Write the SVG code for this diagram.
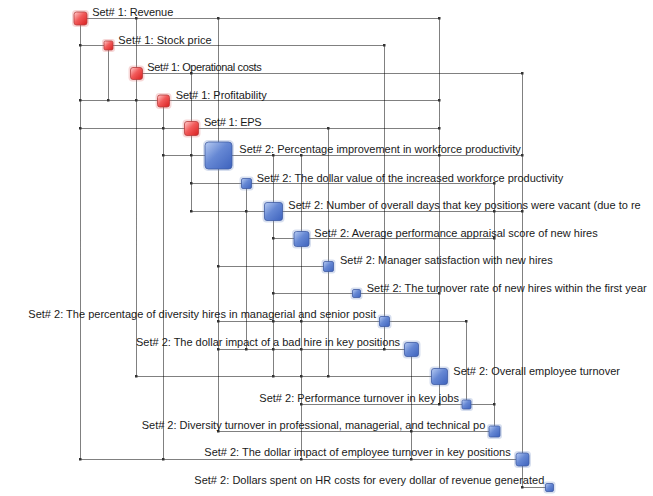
<svg xmlns="http://www.w3.org/2000/svg" width="653" height="496" viewBox="0 0 653 496">
<defs>
<linearGradient id="gr" x1="0" y1="0" x2="1" y2="1">
<stop offset="0" stop-color="#ffd0d0"/><stop offset="0.45" stop-color="#f25a5a"/><stop offset="1" stop-color="#d81e1e"/>
</linearGradient>
<linearGradient id="gb" x1="0" y1="0" x2="1" y2="1">
<stop offset="0" stop-color="#b8ccf2"/><stop offset="0.45" stop-color="#6688d4"/><stop offset="1" stop-color="#3d62bd"/>
</linearGradient>
</defs>
<style>
.c{fill:none;stroke:#000;stroke-width:1;stroke-dasharray:1 1}
.m{fill:#333}
.r{fill:url(#gr);stroke:#b83a3a;stroke-width:0.8}
.b{fill:url(#gb);stroke:#3d5aa3;stroke-width:0.8}
.h{fill:none;stroke-width:2;opacity:0.25}
.hr{stroke:#e06060}
.hb{stroke:#6080c0}
text{font-family:"Liberation Sans",Arial,sans-serif;font-size:11px;fill:#1a1a1a}
</style>
<rect width="653" height="496" fill="#fff"/>
<g id="connectors">
<path class="c" d="M80.5 18.5H439.5M80.5 45.5H384.5M136.5 73.5H522.5M80.5 100.5H439.5M80.5 128.5H439.5M163.5 155.5H522.5M191.5 183.5H494.5M191.5 211.5H522.5M273.5 238.5H494.5M218.5 266.5H328.5M273.5 293.5H439.5M218.5 321.5H466.5M218.5 349.5H411.5M136.5 376.5H439.5M301.5 404.5H494.5M218.5 431.5H494.5M80.5 459.5H522.5M522.5 487.5H549.5"/>
<path class="c" d="M80.5 18.5V459.5M108.5 45.5V100.5M136.5 18.5V376.5M163.5 100.5V459.5M191.5 73.5V211.5M218.5 18.5V431.5M246.5 183.5V349.5M273.5 155.5V376.5M301.5 155.5V459.5M328.5 128.5V376.5M384.5 45.5V349.5M411.5 349.5V459.5M439.5 18.5V404.5M466.5 321.5V404.5M494.5 183.5V431.5M522.5 73.5V487.5"/>
<g class="m">
<rect x="135" y="17" width="2.5" height="2.5"/><rect x="217" y="17" width="2.5" height="2.5"/><rect x="438" y="17" width="2.5" height="2.5"/>
<rect x="79" y="44" width="2.5" height="2.5"/><rect x="383" y="44" width="2.5" height="2.5"/>
<rect x="190" y="72" width="2.5" height="2.5"/><rect x="521" y="72" width="2.5" height="2.5"/>
<rect x="79" y="99" width="2.5" height="2.5"/><rect x="107" y="99" width="2.5" height="2.5"/><rect x="135" y="99" width="2.5" height="2.5"/><rect x="438" y="99" width="2.5" height="2.5"/>
<rect x="79" y="127" width="2.5" height="2.5"/><rect x="162" y="127" width="2.5" height="2.5"/><rect x="327" y="127" width="2.5" height="2.5"/><rect x="438" y="127" width="2.5" height="2.5"/>
<rect x="162" y="154" width="2.5" height="2.5"/><rect x="190" y="154" width="2.5" height="2.5"/><rect x="272" y="154" width="2.5" height="2.5"/><rect x="300" y="154" width="2.5" height="2.5"/><rect x="438" y="154" width="2.5" height="2.5"/><rect x="521" y="154" width="2.5" height="2.5"/>
<rect x="190" y="182" width="2.5" height="2.5"/><rect x="493" y="182" width="2.5" height="2.5"/>
<rect x="190" y="210" width="2.5" height="2.5"/><rect x="245" y="210" width="2.5" height="2.5"/><rect x="493" y="210" width="2.5" height="2.5"/><rect x="521" y="210" width="2.5" height="2.5"/>
<rect x="272" y="237" width="2.5" height="2.5"/><rect x="493" y="237" width="2.5" height="2.5"/>
<rect x="217" y="265" width="2.5" height="2.5"/>
<rect x="272" y="292" width="2.5" height="2.5"/><rect x="438" y="292" width="2.5" height="2.5"/>
<rect x="217" y="320" width="2.5" height="2.5"/><rect x="272" y="320" width="2.5" height="2.5"/><rect x="300" y="320" width="2.5" height="2.5"/><rect x="465" y="320" width="2.5" height="2.5"/>
<rect x="217" y="348" width="2.5" height="2.5"/><rect x="245" y="348" width="2.5" height="2.5"/><rect x="272" y="348" width="2.5" height="2.5"/><rect x="300" y="348" width="2.5" height="2.5"/><rect x="383" y="348" width="2.5" height="2.5"/>
<rect x="135" y="375" width="2.5" height="2.5"/><rect x="272" y="375" width="2.5" height="2.5"/><rect x="300" y="375" width="2.5" height="2.5"/><rect x="327" y="375" width="2.5" height="2.5"/>
<rect x="300" y="403" width="2.5" height="2.5"/><rect x="438" y="403" width="2.5" height="2.5"/><rect x="493" y="403" width="2.5" height="2.5"/>
<rect x="217" y="430" width="2.5" height="2.5"/><rect x="410" y="430" width="2.5" height="2.5"/>
<rect x="79" y="458" width="2.5" height="2.5"/><rect x="162" y="458" width="2.5" height="2.5"/><rect x="300" y="458" width="2.5" height="2.5"/><rect x="410" y="458" width="2.5" height="2.5"/>
<rect x="521" y="486" width="2.5" height="2.5"/>
</g>
</g>
<g id="n1"><rect class="h hr" x="73" y="11" width="15" height="15" rx="3"/><rect class="r" x="74" y="12" width="13" height="13" rx="2.5"/><text x="92.3" y="16" textLength="81">Set# 1: Revenue</text></g>
<g id="n2"><rect class="h hr" x="103" y="40" width="11" height="11" rx="2"/><rect class="r" x="104" y="41" width="9" height="9" rx="1.5"/><text x="118.3" y="44" textLength="93.4">Set# 1: Stock price</text></g>
<g id="n3"><rect class="h hr" x="129.5" y="66.5" width="14" height="14" rx="3"/><rect class="r" x="130.5" y="67.5" width="12" height="12" rx="2.5"/><text x="147.3" y="71" textLength="114.4">Set# 1: Operational costs</text></g>
<g id="n4"><rect class="h hr" x="156.5" y="94" width="14" height="14" rx="3"/><rect class="r" x="157.5" y="95" width="12" height="12" rx="2.5"/><text x="175.7" y="99" textLength="91">Set# 1: Profitability</text></g>
<g id="n5"><rect class="h hr" x="183.5" y="120.5" width="16" height="16" rx="3"/><rect class="r" x="184.5" y="121.5" width="14" height="14" rx="2.5"/><text x="204" y="126" textLength="57.7">Set# 1: EPS</text></g>
<g id="n6"><rect class="h hb" x="204" y="141" width="29" height="29" rx="4"/><rect class="b" x="205" y="142" width="27" height="27" rx="3.5"/><text x="239.3" y="153.3" textLength="281.4">Set# 2: Percentage improvement in workforce productivity</text></g>
<g id="n7"><rect class="h hb" x="240.5" y="177.5" width="12" height="12" rx="2"/><rect class="b" x="241.5" y="178.5" width="10" height="10" rx="1.5"/><text x="256.7" y="181.7" textLength="306.6">Set# 2: The dollar value of the increased workforce productivity</text></g>
<g id="n8"><rect class="h hb" x="263.5" y="201.5" width="20" height="20" rx="3"/><rect class="b" x="264.5" y="202.5" width="18" height="18" rx="2.5"/><text x="288.3" y="209" textLength="352.4">Set# 2: Number of overall days that key positions were vacant (due to re</text></g>
<g id="n9"><rect class="h hb" x="293" y="230.5" width="17" height="17" rx="3"/><rect class="b" x="294" y="231.5" width="15" height="15" rx="2.5"/><text x="314.3" y="236.7" textLength="283.4">Set# 2: Average performance appraisal score of new hires</text></g>
<g id="n10"><rect class="h hb" x="322.5" y="260.5" width="12" height="12" rx="2"/><rect class="b" x="323.5" y="261.5" width="10" height="10" rx="1.5"/><text x="340" y="264" textLength="212.7">Set# 2: Manager satisfaction with new hires</text></g>
<g id="n11"><rect class="h hb" x="351.5" y="288.5" width="10" height="10" rx="2"/><rect class="b" x="352.5" y="289.5" width="8" height="8" rx="1.5"/><text x="366.7" y="291.7" textLength="280">Set# 2: The turnover rate of new hires within the first year</text></g>
<g id="n12"><rect class="h hb" x="378.5" y="315.5" width="12" height="12" rx="2"/><rect class="b" x="379.5" y="316.5" width="10" height="10" rx="1.5"/><text x="28.3" y="318.3" textLength="347.7">Set# 2: The percentage of diversity hires in managerial and senior posit</text></g>
<g id="n13"><rect class="h hb" x="403.5" y="341.5" width="16" height="16" rx="3"/><rect class="b" x="404.5" y="342.5" width="14" height="14" rx="2.5"/><text x="136" y="346" textLength="264">Set# 2: The dollar impact of a bad hire in key positions</text></g>
<g id="n14"><rect class="h hb" x="430.5" y="367.5" width="18" height="18" rx="3"/><rect class="b" x="431.5" y="368.5" width="16" height="16" rx="2.5"/><text x="453.3" y="375" textLength="166.7">Set# 2: Overall employee turnover</text></g>
<g id="n15"><rect class="h hb" x="461" y="399" width="11" height="11" rx="2"/><rect class="b" x="462" y="400" width="9" height="9" rx="1.5"/><text x="259.3" y="401.7" textLength="199.7">Set# 2: Performance turnover in key jobs</text></g>
<g id="n16"><rect class="h hb" x="488" y="425" width="13" height="13" rx="2"/><rect class="b" x="489" y="426" width="11" height="11" rx="1.5"/><text x="141.7" y="429.3" textLength="343.6">Set# 2: Diversity turnover in professional, managerial, and technical po</text></g>
<g id="n17"><rect class="h hb" x="515" y="452" width="15" height="15" rx="3"/><rect class="b" x="516" y="453" width="13" height="13" rx="2.5"/><text x="204.3" y="456" textLength="306.4">Set# 2: The dollar impact of employee turnover in key positions</text></g>
<g id="n18"><rect class="h hb" x="544.5" y="482.5" width="10" height="10" rx="2"/><rect class="b" x="545.5" y="483.5" width="8" height="8" rx="1.5"/><text x="194.3" y="484.3" textLength="350">Set# 2: Dollars spent on HR costs for every dollar of revenue generated</text></g>
</svg>
